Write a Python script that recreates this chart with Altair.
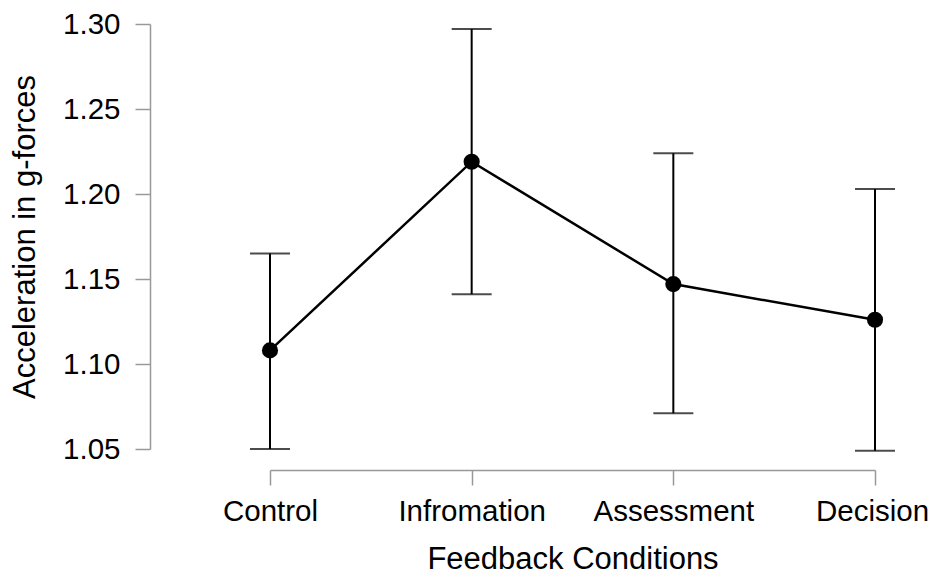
import altair as alt
import pandas as pd

conditions = ["Control", "Infromation", "Assessment", "Decision"]
means = [1.108, 1.219, 1.147, 1.126]
lower = [1.050, 1.141, 1.071, 1.049]
upper = [1.165, 1.297, 1.224, 1.203]

df = pd.DataFrame({"cond": conditions, "mean": means, "lo": lower, "hi": upper})

FONT = "Liberation Sans"
x = alt.X("cond:N", sort=conditions,
          scale=alt.Scale(type="point", padding=0),
          axis=alt.Axis(title="Feedback Conditions", labelAngle=0, offset=21,
                        domainColor="#999999", tickColor="#999999", tickSize=15,
                        labelPadding=12, titlePadding=19, titleFontSize=31,
                        labelOffset={"condition": {"test": "datum.value === 'Decision'", "value": -3},
                                     "value": 0}))
y_axis = alt.Axis(title="Acceleration in g-forces", values=[1.05, 1.10, 1.15, 1.20, 1.25, 1.30],
                  format=".2f", offset=120, domainColor="#999999", tickColor="#999999",
                  tickSize=15, labelPadding=15, titlePadding=21, titleFontSize=31, grid=False)
yscale = alt.Scale(domain=[1.05, 1.30], nice=False, zero=False)

base = alt.Chart(df)
rules = base.mark_rule(color="black", strokeWidth=2).encode(
    x=x, y=alt.Y("lo:Q", scale=yscale, axis=y_axis), y2="hi:Q")
cap_lo = base.mark_tick(color="black", thickness=2, size=40, orient="horizontal").encode(
    x=x, y=alt.Y("lo:Q", scale=yscale))
cap_hi = base.mark_tick(color="black", thickness=2, size=40, orient="horizontal").encode(
    x=x, y=alt.Y("hi:Q", scale=yscale))
line = base.mark_line(color="black", strokeWidth=2.5).encode(
    x=x, y=alt.Y("mean:Q", scale=yscale))
pts = base.mark_circle(color="black", opacity=1, size=260).encode(
    x=x, y=alt.Y("mean:Q", scale=yscale))

chart = alt.layer(rules, cap_lo, cap_hi, line, pts).properties(
    width=605, height=425,
    autosize=alt.AutoSizeParams(type="none"),
    padding={"left": 262, "top": 16, "right": 53, "bottom": 128},
).configure_view(stroke=None).configure_axis(
    labelFont=FONT, titleFont=FONT, labelFontSize=29.5,
    labelColor="black", titleColor="black", titleFontWeight="normal", domainWidth=1.5, tickWidth=1.5
)

chart.save("out.html", embed_options={"renderer": "svg", "actions": False})
